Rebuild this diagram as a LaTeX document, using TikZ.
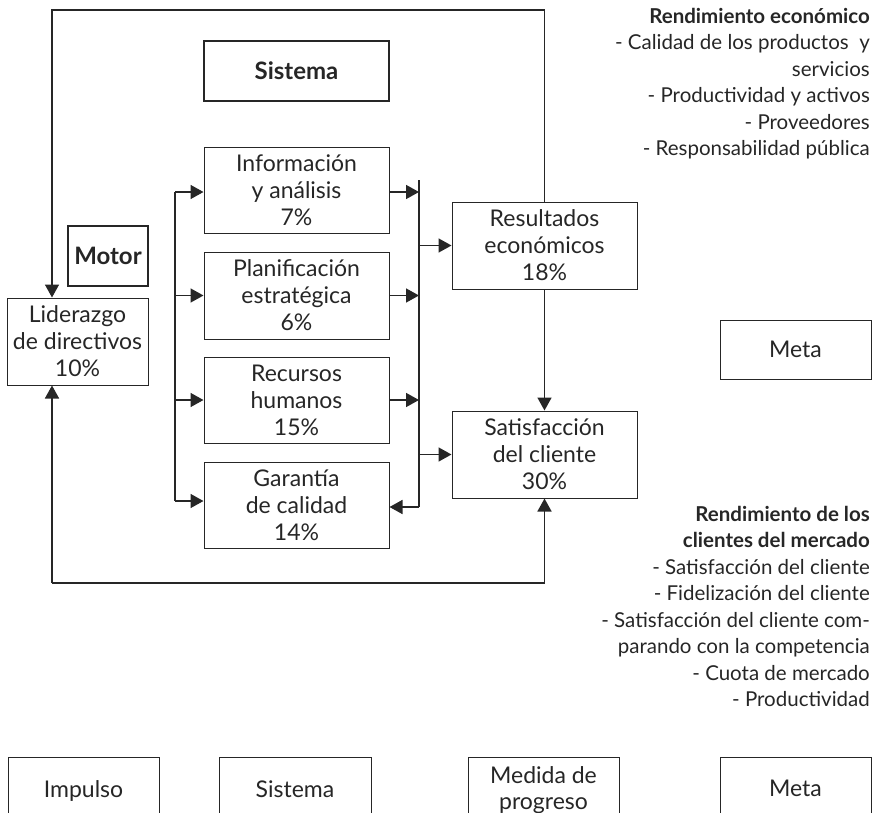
\documentclass[tikz,border=0pt]{standalone}
\usepackage{fontspec}
\setmainfont{Lato}
\usetikzlibrary{arrows.meta}
\begin{document}
\begin{tikzpicture}[x=1pt,y=-1pt,
  box/.style={draw=black!85,line width=1pt,rectangle,align=center,inner sep=0pt,
    font=\fontsize{23}{27}\selectfont,text=black!85},
  boldbox/.style={draw=black!85,line width=2pt,rectangle,align=center,inner sep=0pt,
    font=\fontsize{24}{28}\selectfont\bfseries,text=black!85},
  wire/.style={draw=black!85,line width=1.6pt},
  arr/.style={wire,-{Triangle[length=13pt,width=14pt]}},
  side/.style={align=right,anchor=north east,inner sep=0pt,text=black!85,
    font=\fontsize{20.5}{26.5}\selectfont},
  lowframe/.style={draw=black!85,line width=1pt,rectangle,inner sep=0pt,minimum height=80pt},
  lowtext/.style={inner sep=0pt,align=center,
    font=\fontsize{23}{26}\selectfont,text=black!85}
]
\clip (0,0) rectangle (875,812);
% boxes
\node[boldbox,minimum width=185pt,minimum height=60pt] (sys) at (296.5,71) {Sistema};
\node[box,minimum width=185pt,minimum height=86pt] (info) at (296.5,190) {Información\\y análisis\\7\%};
\node[box,minimum width=185pt,minimum height=87pt] (plan) at (296.5,295.5) {Planificación\\estratégica\\6\%};
\node[box,minimum width=185pt,minimum height=86pt] (rec) at (296.5,400) {Recursos\\humanos\\15\%};
\node[box,minimum width=185pt,minimum height=86pt] (gar) at (296.5,505) {Garantía\\de calidad\\14\%};
\node[boldbox,minimum width=80pt,minimum height=60pt] (mot) at (108,256) {Motor};
\node[box,minimum width=141pt,minimum height=87pt] (lid) at (77.5,341.5) {Liderazgo\\de directivos\\10\%};
\node[box,minimum width=185pt,minimum height=87pt] (res) at (544.5,245.5) {Resultados\\económicos\\18\%};
\node[box,minimum width=185pt,minimum height=87pt] (sat) at (544.5,454.5) {Satisfacción\\del cliente\\30\%};
\node[box,minimum width=151pt,minimum height=59pt] (meta) at (795.5,349.5) {Meta};
% side texts
\node[side] (t1) at (870,8) {\textbf{Rendimiento económico}\\- Calidad de los productos\ \ y\\servicios\\- Productividad y activos\\- Proveedores\\- Responsabilidad pública};
\node[side] (t2) at (870,506) {\textbf{Rendimiento de los}\\\textbf{clientes del mercado}\\- Satisfacción del cliente\\- Fidelización del cliente\\- Satisfacción del cliente com-\\parando con la competencia\\- Cuota de mercado\\- Productividad};
% bus coordinates
\coordinate (lb) at (175,192);
\coordinate (lbe) at (175,501);
\coordinate (rb) at (419,180);
\coordinate (rbe) at (419,507);
\coordinate (tl) at (52,10);
\coordinate (bl) at (52,583);
% left bus
\draw[wire] (lb) -- (lbe);
\draw[arr] (lb) -- (lb -| info.west);
\draw[arr] (lb |- plan.west) -- (plan.west);
\draw[arr] (lb |- rec.west) -- (rec.west);
\draw[arr] (lbe) -- (lbe -| gar.west);
% right bus
\draw[wire] (rb) -- (rbe);
\draw[arr] (info.east |- lb) -- (rb |- lb);
\draw[arr] (plan.east) -- (rb |- plan.east);
\draw[arr] (rec.east) -- (rb |- rec.east);
\draw[arr] (rbe) -- (rbe -| gar.east);
\draw[arr] (rb |- res.west) -- (res.west);
\draw[arr] (rb |- sat.west) -- (sat.west);
% vertical
\draw[arr] (res.south) -- (sat.north);
% loops
\draw[arr] (res.north) |- (tl) -- (tl |- lid.north);
\draw[arr] (bl) -- (bl |- lid.south);
\draw[arr] (bl) -| (sat.south);
% bottom legend boxes (cut by the lower edge)
\node[lowframe,minimum width=151pt] (f1) at (83.5,797) {};
\node[lowframe,minimum width=152pt] (f2) at (295,797) {};
\node[lowframe,minimum width=151pt] (f3) at (543.5,797) {};
\node[lowframe,minimum width=151pt] (f4) at (795.5,797) {};
\node[lowtext,anchor=base] (l1) at (83.5,797) {Impulso};
\node[lowtext,anchor=base] (l2) at (295,797) {Sistema};
\node[lowtext,anchor=north] (l3) at (543.5,766) {Medida de\\progreso};
\node[lowtext,anchor=base] (l4) at (795.5,796) {Meta};
\end{tikzpicture}
\end{document}
